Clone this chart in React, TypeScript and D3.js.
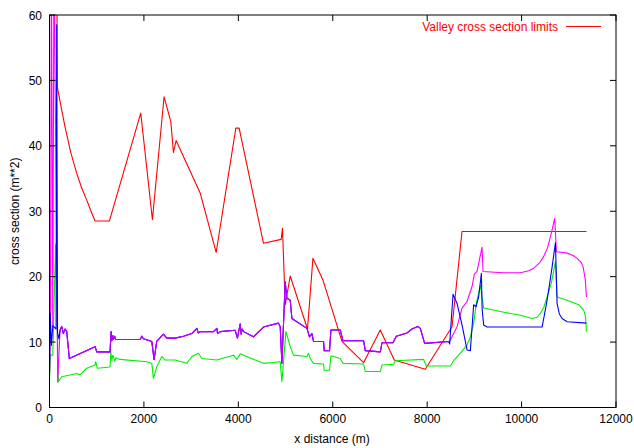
import React from 'react';
import * as d3 from 'd3';

// distance (m), cross section (m**2)
const valleyLimits: [number, number][] = [
  [150, 80], [165, 49], [250, 45.8], [329, 42.9], [450, 39.0], [577, 35.8], [680, 33.6],
  [789, 31.7], [880, 30.0], [965, 28.5], [1268, 28.5],
  [1933, 45], [2180, 28.7], [2427, 47.5], [2570, 43.7], [2625, 39], [2682, 40.8],
  [3191, 32.8], [3530, 23.7], [3947, 42.7], [4017, 42.7], [4533, 25.1], [4908, 25.7],
  [4935, 27.4], [4993, 15.7], [5099, 20.1], [5465, 12.0], [5580, 22.8], [5792, 19.5],
  [6195, 10.1], [6653, 6.85], [7007, 11.85], [7303, 7.26], [7960, 5.84], [8527, 12.35],
  [8738, 26.9], [11374, 26.9],
];

const upperHeadMagenta: [number, number][] = [
  [0, 5], [20, 12], [40, 70], [70, 12.3], [95, 70], [174, 3.9],
];

const upperHeadBlue: [number, number][] = [
  [0, 5], [15, 14.4], [40, 9.5], [70, 12.5], [140, 12], [153, 58.5], [170, 11.5], [200, 10.5],
];

// shared part: both series coincide here
const upperMiddle: [number, number][] = [
  [223, 11.8], [259, 12.4], [293, 11.3], [330, 12.0], [365, 11.6], [420, 7.5], [965, 9.3],
  [1000, 8.5], [1283, 8.5], [1304, 11.6], [1320, 10.2], [1340, 11.0], [1353, 10.4],
  [1380, 10.9], [1400, 10.4], [1919, 10.4], [1955, 10.9], [1990, 10.5], [2167, 10.1],
  [2215, 7.3], [2271, 10.1], [2413, 11.2], [2485, 10.6], [2661, 10.6], [2837, 10.9],
  [3015, 11.3], [3121, 12.1], [3150, 11.4], [3191, 11.6], [3473, 11.6], [3545, 12.1],
  [3560, 11.3], [3615, 11.6], [3933, 11.8], [3981, 10.6], [4039, 12.8], [4060, 11.2],
  [4080, 12.0], [4109, 11.6], [4321, 10.8], [4533, 12.3], [4851, 12.9], [4887, 12.35],
  [4923, 6.75], [4993, 19.2], [5029, 16.7], [5099, 16.4], [5135, 13.6], [5453, 12.1],
  [5508, 10.8], [5559, 11.3], [5593, 10.1], [5805, 10.1], [5819, 8.7], [5932, 8.7],
  [5961, 11.85], [6159, 11.85], [6216, 10.2], [6653, 10.2], [6689, 8.7], [7007, 8.5],
  [7043, 9.9], [7276, 9.9], [7346, 10.9], [7573, 11.4], [7680, 12.0], [7800, 12.4],
  [7855, 12.1], [7946, 9.8], [8455, 10.1],
];

const blueTail: [number, number][] = [
  [8476, 9.7], [8548, 17.3], [8633, 15.9], [8739, 12.6], [8845, 8.8], [8915, 8.7],
  [8985, 15.7], [9035, 15.4], [9091, 16.9], [9148, 20.5], [9165, 15.0], [9197, 12.6],
  [9268, 12.3], [10435, 12.3], [10541, 16.4], [10647, 21.5], [10717, 25.2], [10752, 15.9],
  [10800, 14.3], [10858, 13.6], [10965, 13.1], [11374, 12.9],
];

const magentaTail: [number, number][] = [
  [8476, 10.1], [8633, 12.35], [8739, 15.2], [8845, 16.2], [8951, 18.5], [9000, 20.4],
  [9057, 20.8], [9127, 23.3], [9163, 24.5], [9184, 20.8], [9600, 20.6], [9975, 20.6],
  [10150, 20.9], [10257, 21.3], [10380, 22.1], [10469, 23.1], [10550, 24.4], [10611, 26.1],
  [10702, 28.9], [10738, 23.8], [10965, 23.6], [11100, 23.2], [11177, 22.8], [11260, 22.2],
  [11304, 21.5], [11350, 19.5], [11374, 16.9],
];

const lower: [number, number][] = [
  [0, 4.2], [20, 8.0], [70, 8.0], [80, 11], [130, 25], [187, 3.95], [259, 4.7], [577, 5.2],
  [647, 5.0], [789, 6.0], [965, 6.5], [979, 7.0], [1013, 6.0], [1283, 6.2], [1297, 8.5],
  [1320, 7.2], [1340, 8.0], [1353, 7.8], [1380, 7.1], [1410, 7.6], [1495, 7.35],
  [2061, 7.0], [2167, 6.75], [2201, 4.45], [2271, 6.2], [2379, 7.8], [2449, 7.25],
  [2661, 7.25], [2909, 6.75], [3015, 7.8], [3155, 8.3], [3227, 7.5], [3545, 7.25],
  [3897, 8.0], [3969, 7.35], [4039, 8.2], [4533, 6.75], [4887, 7.0], [4923, 3.95],
  [5008, 11.6], [5099, 9.3], [5169, 8.0], [5453, 7.8], [5487, 8.3], [5523, 7.5],
  [5593, 6.75], [5805, 6.65], [5819, 5.7], [5932, 5.7], [5961, 7.9], [6159, 7.5],
  [6216, 6.75], [6653, 6.65], [6689, 5.5], [7007, 5.5], [7043, 6.5], [7289, 6.6],
  [7325, 7.15], [7925, 7.35], [7982, 6.35], [8491, 6.35], [8561, 7.15], [8703, 8.3],
  [8845, 9.55], [8915, 10.8], [8985, 12.9], [9042, 15.9], [9127, 18.7], [9197, 15.2],
  [9600, 14.6], [9975, 14.1], [10222, 13.6], [10330, 13.8], [10399, 14.4], [10470, 15.3],
  [10541, 16.9], [10630, 19.0], [10717, 22.3], [10752, 16.9], [10965, 16.4], [11211, 15.7],
  [11317, 14.9], [11355, 13.8], [11374, 11.6],
];

const xTicks = [0, 2000, 4000, 6000, 8000, 10000, 12000];
const yTicks = [0, 10, 20, 30, 40, 50, 60];

const App = () => {
  const width = 634;
  const height = 448;
  const left = 49.5;
  const right = 616;
  const top = 15;
  const bottom = 407.5;
  const tick = 6;

  const x = d3.scaleLinear().domain([0, 12000]).range([left, right]);
  const y = d3.scaleLinear().domain([0, 60]).range([bottom, top]);

  const line = d3
    .line<[number, number]>()
    .x(d => x(d[0]))
    .y(d => y(d[1]));

  const magenta = [...upperHeadMagenta, ...upperMiddle, ...magentaTail];
  const blue = [...upperHeadBlue, ...upperMiddle, ...blueTail];

  const font = '"Liberation Sans", Arial, sans-serif';

  return (
    <svg
      width={width}
      height={height}
      style={{ position: 'absolute', left: 0, top: 0, background: '#fff' }}
      fontFamily={font}
      fontSize={12}>
      <defs>
        <clipPath id="plot">
          <rect x={left} y={top} width={right - left} height={bottom - top} />
        </clipPath>
      </defs>

      <g clipPath="url(#plot)" fill="none" strokeWidth={1.1} strokeLinejoin="round">
        <path d={line(valleyLimits) || ''} stroke="#ff0000" />
        <path d={line(lower) || ''} stroke="#00ee00" />
        <path d={line(magenta) || ''} stroke="#ff00ff" />
        <path d={line(blue) || ''} stroke="#0000ff" />
        {/* where magenta and blue coincide they blend to purple */}
        <path d={line(upperMiddle) || ''} stroke="#ff00ff" strokeOpacity={0.72} />
      </g>

      {/* frame and ticks */}
      <rect x={left} y={top} width={right - left} height={bottom - top} fill="none" stroke="#000" strokeWidth={1} />
      {xTicks.map(t => (
        <g key={'x' + t}>
          <line x1={x(t)} x2={x(t)} y1={bottom} y2={bottom - tick} stroke="#000" />
          <line x1={x(t)} x2={x(t)} y1={top} y2={top + tick} stroke="#000" />
          <text x={x(t)} y={423} textAnchor="middle" fill="#000">{t}</text>
        </g>
      ))}
      {yTicks.map(t => (
        <g key={'y' + t}>
          <line x1={left} x2={left + tick} y1={y(t)} y2={y(t)} stroke="#000" />
          <line x1={right} x2={right - tick} y1={y(t)} y2={y(t)} stroke="#000" />
          <text x={42} y={y(t) + 4.5} textAnchor="end" fill="#000">{t}</text>
        </g>
      ))}

      {/* axis titles */}
      <text x={332} y={443} textAnchor="middle" fill="#000">x distance (m)</text>
      <text transform={`translate(19,${(top + bottom) / 2}) rotate(-90)`} textAnchor="middle" fill="#000">
        cross section (m**2)
      </text>

      {/* legend */}
      <text x={558} y={31} textAnchor="end" fill="#ff0000">Valley cross section limits</text>
      <line x1={566} x2={601} y1={26.5} y2={26.5} stroke="#ff0000" strokeWidth={1.1} />
    </svg>
  );
};

export default App;
